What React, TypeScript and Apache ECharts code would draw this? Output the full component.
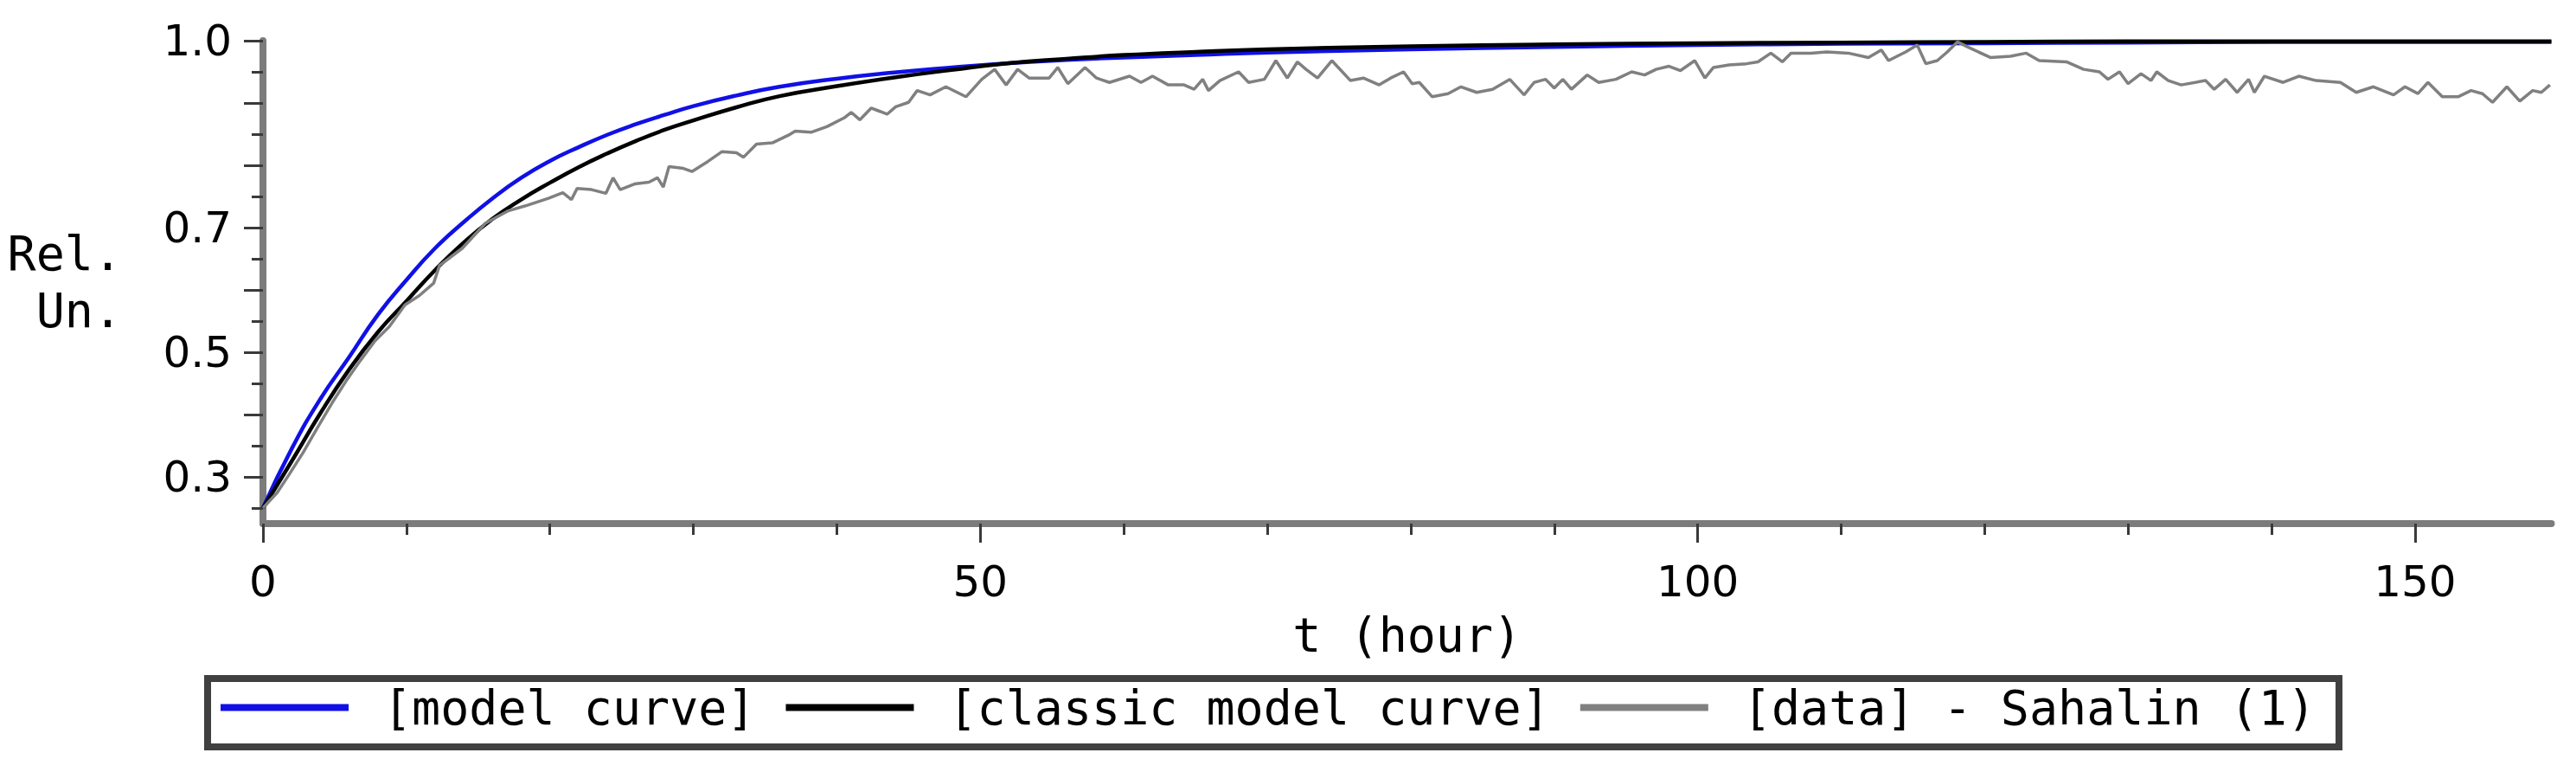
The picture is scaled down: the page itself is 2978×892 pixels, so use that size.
import React, { useEffect, useRef } from "react";
import * as echarts from "echarts";

// ---- data ----
const T_MODEL = [0, 2, 4, 6, 8, 10, 12, 14, 16, 18, 20, 22, 24, 26, 28, 30, 33, 36, 40, 44, 48, 52, 56, 60, 65, 70, 80, 90, 100, 110, 120, 130, 140, 150, 159.5];
const MODEL_CURVE = [0.25, 0.345, 0.425, 0.492, 0.56, 0.616, 0.667, 0.709, 0.747, 0.78, 0.807, 0.829, 0.849, 0.866, 0.881, 0.895, 0.912, 0.926, 0.939, 0.949, 0.957, 0.964, 0.969, 0.973, 0.977, 0.981, 0.986, 0.99, 0.993, 0.995, 0.996, 0.997, 0.998, 0.998, 0.998];
const CLASSIC_CURVE = [0.25, 0.325, 0.402, 0.472, 0.532, 0.582, 0.632, 0.676, 0.714, 0.745, 0.772, 0.797, 0.819, 0.839, 0.857, 0.872, 0.893, 0.911, 0.927, 0.941, 0.953, 0.964, 0.971, 0.977, 0.982, 0.986, 0.991, 0.994, 0.996, 0.997, 0.998, 0.999, 0.999, 0.999, 0.999];

const T_DATA = [
  0, 1.0, 1.8, 2.8, 3.8, 4.8, 5.8, 6.8, 7.8, 8.8, 9.9, 10.9, 11.9, 12.3, 13.9, 15.5, 17.1, 18.3, 19.9, 20.9,
  21.5, 21.9, 22.9, 23.9, 24.4, 24.9, 25.9, 26.9, 27.5, 27.9, 28.3, 29.3, 29.9, 31.0, 32.0, 33.0, 33.5, 34.4, 35.5, 36.6,
  37.1, 38.2, 39.3, 40.5, 41.0, 41.6, 42.4, 43.5, 44.1, 45.0, 45.6, 46.5, 47.6, 49.0, 50.1, 51.0, 51.8, 52.6, 53.4, 54.8,
  55.4, 56.1, 57.3, 58.1, 59.0, 60.4, 61.2, 62.0, 63.1, 64.2, 64.9, 65.5, 65.9, 66.7, 68.0, 68.7, 69.8, 70.6, 71.4, 72.1,
  72.7, 73.5, 74.5, 75.8, 76.7, 77.8, 78.6, 79.5, 80.1, 80.6, 81.5, 82.6, 83.5, 84.6, 85.7, 86.9, 87.9, 88.6, 89.4, 90.0,
  90.6, 91.2, 92.3, 93.1, 94.3, 95.4, 96.3, 97.1, 98.0, 98.8, 99.8, 100.5, 101.1, 102.2, 103.4, 104.2, 105.1, 105.9, 106.5, 107.9,
  109.0, 110.5, 111.9, 112.8, 113.3, 114.5, 115.3, 115.9, 116.7, 117.4, 118.1, 118.9, 120.4, 121.8, 122.9, 123.8, 125.7, 126.9, 128.0, 128.6,
  129.4, 130.0, 130.9, 131.6, 132.0, 132.8, 133.7, 135.4, 136.0, 136.8, 137.6, 138.4, 138.8, 139.5, 140.8, 141.9, 143.1, 144.8, 145.9, 147.1,
  148.5, 149.3, 150.2, 150.9, 151.9, 153.0, 153.9, 154.7, 155.4, 156.4, 157.3, 158.2, 158.8, 159.4,
];
const DATA_SAHALIN = [
  0.25, 0.275, 0.303, 0.339, 0.379, 0.418, 0.454, 0.487, 0.518, 0.541, 0.576, 0.591, 0.611, 0.639, 0.667, 0.707, 0.727, 0.735, 0.747, 0.756,
  0.745, 0.763, 0.761, 0.755, 0.78, 0.761, 0.77, 0.773, 0.78, 0.765, 0.798, 0.795, 0.79, 0.806, 0.822, 0.82, 0.813, 0.834, 0.836, 0.848,
  0.855, 0.853, 0.862, 0.876, 0.885, 0.873, 0.892, 0.882, 0.894, 0.901, 0.92, 0.913, 0.926, 0.91, 0.938, 0.954, 0.929, 0.954, 0.94, 0.94,
  0.957, 0.931, 0.957, 0.94, 0.933, 0.943, 0.933, 0.943, 0.929, 0.929, 0.922, 0.938, 0.92, 0.936, 0.95, 0.933, 0.938, 0.968, 0.94, 0.966,
  0.954, 0.94, 0.968, 0.936, 0.94, 0.929, 0.94, 0.95, 0.931, 0.933, 0.91, 0.915, 0.926, 0.917, 0.922, 0.938, 0.913, 0.933, 0.938, 0.924,
  0.938, 0.922, 0.945, 0.933, 0.938, 0.95, 0.945, 0.954, 0.959, 0.952, 0.968, 0.94, 0.957, 0.961, 0.963, 0.966, 0.98, 0.966, 0.98, 0.98,
  0.982, 0.98, 0.973, 0.985, 0.968, 0.982, 0.993, 0.963, 0.968, 0.982, 0.998, 0.989, 0.973, 0.975, 0.98, 0.968, 0.966, 0.954, 0.95, 0.938,
  0.95, 0.931, 0.947, 0.936, 0.95, 0.936, 0.929, 0.936, 0.922, 0.938, 0.917, 0.938, 0.917, 0.943, 0.933, 0.943, 0.936, 0.933, 0.917, 0.926,
  0.913, 0.926, 0.915, 0.933, 0.91, 0.91, 0.92, 0.915, 0.901, 0.926, 0.903, 0.92, 0.917, 0.929,
];

const X_LABELS = [0, 50, 100, 150];
const X_MINOR_TICKS = [10, 20, 30, 40, 60, 70, 80, 90, 110, 120, 130, 140];
const Y_LABELS = [0.3, 0.5, 0.7, 1.0];
const Y_MAJOR_TICKS = [0.3, 0.4, 0.5, 0.6, 0.7, 0.8, 0.9, 1.0];
const Y_MINOR_TICKS = [0.25, 0.35, 0.45, 0.55, 0.65, 0.75, 0.85, 0.95];

const SERIES_NAMES = ["[model curve]", "[classic model curve]", "[data] - Sahalin (1)"];

const zip = (xs: number[], ys: number[]) => xs.map((x, i) => [x, ys[i]]);

const MONO = "'DejaVu Sans Mono', monospace";
const SANS = "'DejaVu Sans', sans-serif";
const AXIS_GRAY = "#7c7c7c";
const TICK_COLOR = "#3a3a3a";

export default function App() {
  const ref = useRef<HTMLDivElement>(null);

  useEffect(() => {
    if (!ref.current) return;
    const chart = echarts.init(ref.current, null, { renderer: "svg" });
    const option: any = {
      animation: false,
      backgroundColor: "#ffffff",
      grid: {
        left: 304,
        right: 28.5,
        top: 47,
        bottom: 287,
        containLabel: false,
        outerBoundsMode: "none",
      },
      legend: {
        left: 255,
        top: 790,
        padding: 0,
        orient: "horizontal",
        icon: "rect",
        itemWidth: 148,
        itemHeight: 8,
        itemGap: 35,
        selectedMode: false,
        data: SERIES_NAMES,
        textStyle: {
          fontFamily: MONO,
          fontSize: 55,
          color: "#000",
          padding: [14, 0, 0, 35],
        },
      },
      graphic: [
        {
          type: "rect",
          shape: { x: 240, y: 784, width: 2464, height: 79 },
          style: { fill: "none", stroke: "#404040", lineWidth: 8 },
          z: 100,
        },
      ],
      xAxis: [
        {
          type: "value",
          position: "bottom",
          min: 0,
          max: 159.5,
          name: "t (hour)",
          nameLocation: "middle",
          nameGap: 101,
          nameTextStyle: { fontFamily: MONO, fontSize: 55, color: "#000" },
          axisLine: { show: true, lineStyle: { color: AXIS_GRAY, width: 8 } },
          axisTick: {
            show: true,
            customValues: X_MINOR_TICKS,
            length: 13,
            lineStyle: { color: TICK_COLOR, width: 3 },
          },
          axisLabel: {
            show: true,
            customValues: X_LABELS,
            margin: 42,
            fontFamily: SANS,
            fontSize: 50,
            color: "#000",
          },
          splitLine: { show: false },
        },
        {
          type: "value",
          position: "bottom",
          min: 0,
          max: 159.5,
          axisLine: { show: false },
          axisTick: {
            show: true,
            customValues: X_LABELS,
            length: 22,
            lineStyle: { color: TICK_COLOR, width: 3 },
          },
          axisLabel: { show: false },
          splitLine: { show: false },
        },
      ],
      yAxis: [
        {
          type: "value",
          position: "left",
          min: 0.225,
          max: 1.0,
          name: "Rel.\nUn.",
          nameLocation: "middle",
          nameRotate: 0,
          nameGap: 163,
          nameTextStyle: {
            fontFamily: MONO,
            fontSize: 55,
            lineHeight: 66,
            color: "#000",
            align: "right",
            verticalAlign: "middle",
          },
          axisLine: { show: true, lineStyle: { color: AXIS_GRAY, width: 8 } },
          axisTick: {
            show: true,
            customValues: Y_MAJOR_TICKS,
            length: 22,
            lineStyle: { color: TICK_COLOR, width: 3 },
          },
          axisLabel: {
            show: true,
            customValues: Y_LABELS,
            margin: 36,
            fontFamily: SANS,
            fontSize: 50,
            color: "#000",
            formatter: (v: number) => v.toFixed(1),
          },
          splitLine: { show: false },
        },
        {
          type: "value",
          position: "left",
          min: 0.225,
          max: 1.0,
          axisLine: { show: false },
          axisTick: {
            show: true,
            customValues: Y_MINOR_TICKS,
            length: 13,
            lineStyle: { color: TICK_COLOR, width: 3 },
          },
          axisLabel: { show: false },
          splitLine: { show: false },
        },
      ],
      series: [
        {
          name: SERIES_NAMES[0],
          type: "line",
          xAxisIndex: 0,
          yAxisIndex: 0,
          showSymbol: false,
          symbol: "none",
          smooth: true,
          color: "#1010e6",
          lineStyle: { color: "#1010e6", width: 4.5 },
          data: zip(T_MODEL, MODEL_CURVE),
        },
        {
          name: SERIES_NAMES[1],
          type: "line",
          xAxisIndex: 0,
          yAxisIndex: 0,
          showSymbol: false,
          symbol: "none",
          smooth: true,
          color: "#000000",
          lineStyle: { color: "#000000", width: 4.5 },
          data: zip(T_MODEL, CLASSIC_CURVE),
        },
        {
          name: SERIES_NAMES[2],
          type: "line",
          xAxisIndex: 0,
          yAxisIndex: 0,
          showSymbol: false,
          symbol: "none",
          color: "#808080",
          lineStyle: { color: "#808080", width: 3.5 },
          data: zip(T_DATA, DATA_SAHALIN),
        },
      ],
    };
    chart.setOption(option);
    return () => chart.dispose();
  }, []);

  return (
    <div
      ref={ref}
      style={{ position: "fixed", left: 0, top: 0, width: 2978, height: 892, background: "#fff" }}
    />
  );
}
